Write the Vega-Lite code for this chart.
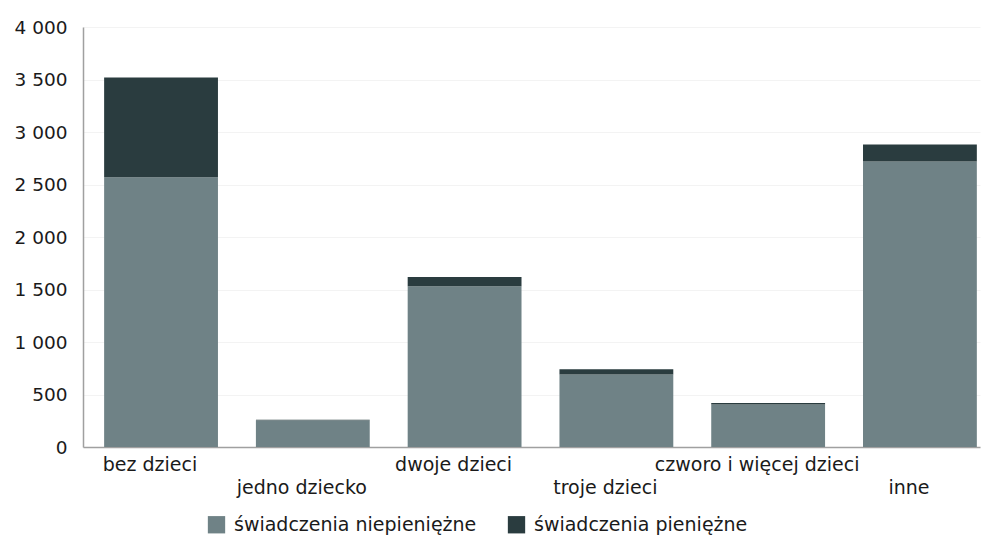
{
  "$schema": "https://vega.github.io/schema/vega-lite/v6.json",
  "autosize": {"type": "none"},
  "padding": {"left": 83, "top": 27, "right": 7, "bottom": 99},
  "width": 897,
  "height": 420,
  "background": "white",
  "config": {
    "font": "DejaVu Sans",
    "view": {"stroke": null}
  },
  "data": {
    "values": [
      {"kategoria": "bez dzieci", "rodzaj": "świadczenia niepieniężne", "kolejnosc": 1, "wartosc": 2570},
      {"kategoria": "bez dzieci", "rodzaj": "świadczenia pieniężne", "kolejnosc": 2, "wartosc": 950},
      {"kategoria": "jedno dziecko", "rodzaj": "świadczenia niepieniężne", "kolejnosc": 1, "wartosc": 255},
      {"kategoria": "jedno dziecko", "rodzaj": "świadczenia pieniężne", "kolejnosc": 2, "wartosc": 5},
      {"kategoria": "dwoje dzieci", "rodzaj": "świadczenia niepieniężne", "kolejnosc": 1, "wartosc": 1530},
      {"kategoria": "dwoje dzieci", "rodzaj": "świadczenia pieniężne", "kolejnosc": 2, "wartosc": 90},
      {"kategoria": "troje dzieci", "rodzaj": "świadczenia niepieniężne", "kolejnosc": 1, "wartosc": 690},
      {"kategoria": "troje dzieci", "rodzaj": "świadczenia pieniężne", "kolejnosc": 2, "wartosc": 50},
      {"kategoria": "czworo i więcej dzieci", "rodzaj": "świadczenia niepieniężne", "kolejnosc": 1, "wartosc": 405},
      {"kategoria": "czworo i więcej dzieci", "rodzaj": "świadczenia pieniężne", "kolejnosc": 2, "wartosc": 15},
      {"kategoria": "inne", "rodzaj": "świadczenia niepieniężne", "kolejnosc": 1, "wartosc": 2720},
      {"kategoria": "inne", "rodzaj": "świadczenia pieniężne", "kolejnosc": 2, "wartosc": 160}
    ]
  },
  "mark": {"type": "bar"},
  "encoding": {
    "x": {
      "field": "kategoria",
      "type": "nominal",
      "sort": ["bez dzieci", "jedno dziecko", "dwoje dzieci", "troje dzieci", "czworo i więcej dzieci", "inne"],
      "scale": {"paddingInner": 0.25, "paddingOuter": 0.08, "align": 0.87},
      "axis": {
        "title": null,
        "labelAngle": 0,
        "labelFontSize": 19,
        "labelColor": "#1a1a1a",
        "labelPadding": 8,
        "labelLineHeight": 23,
        "labelOffset": -11,
        "labelLimit": 400,
        "labelExpr": "indexof(['jedno dziecko','troje dzieci','inne'], datum.value) >= 0 ? [' ', datum.label] : datum.label",
        "ticks": false,
        "domainColor": "#a0a0a0",
        "domainWidth": 1.5,
        "grid": false
      }
    },
    "y": {
      "field": "wartosc",
      "type": "quantitative",
      "stack": "zero",
      "scale": {"domain": [0, 4000]},
      "axis": {
        "title": null,
        "values": [0, 500, 1000, 1500, 2000, 2500, 3000, 3500, 4000],
        "labelExpr": "replace(format(datum.value, ','), ',', ' ')",
        "labelFontSize": 18.5,
        "labelColor": "#1a1a1a",
        "labelPadding": 16,
        "ticks": false,
        "domainColor": "#a0a0a0",
        "domainWidth": 1.5,
        "gridColor": "#f3f3f3",
        "gridWidth": 1
      }
    },
    "color": {
      "field": "rodzaj",
      "type": "nominal",
      "scale": {
        "domain": ["świadczenia niepieniężne", "świadczenia pieniężne"],
        "range": ["#6f8286", "#2a3c3f"]
      },
      "legend": {
        "title": null,
        "orient": "none",
        "legendX": 124,
        "legendY": 488,
        "direction": "horizontal",
        "symbolType": "square",
        "symbolSize": 300,
        "symbolStrokeWidth": 0,
        "labelFontSize": 19,
        "labelColor": "#1a1a1a",
        "labelOffset": 8,
        "labelLimit": 400,
        "columnPadding": 30
      }
    },
    "order": {"field": "kolejnosc", "type": "quantitative"}
  }
}
